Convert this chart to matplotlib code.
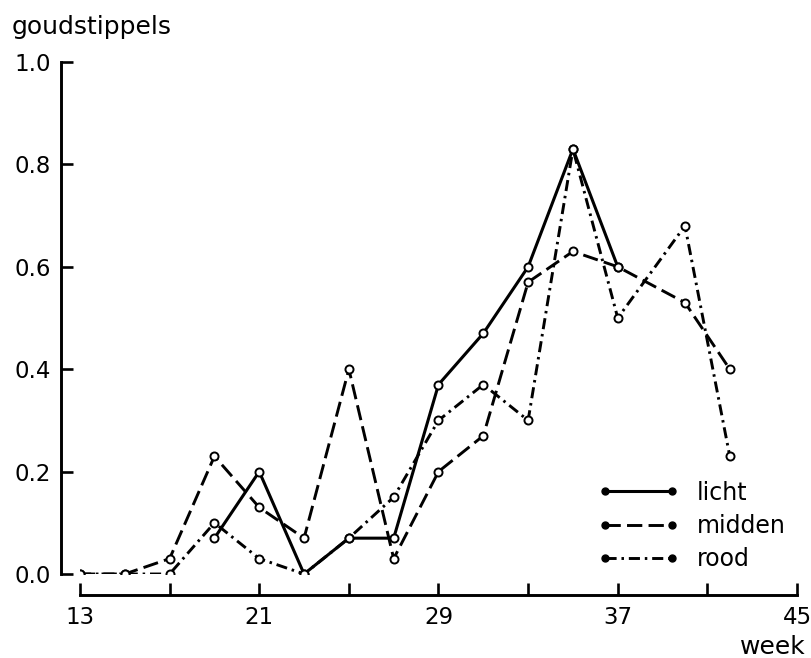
import numpy as np
import matplotlib
matplotlib.use("Agg")
import matplotlib.pyplot as plt
from matplotlib.lines import Line2D

# Gold-spot counts per week for three light treatments
weeks = [13, 15, 17, 19, 21, 23, 25, 27, 29, 31, 33, 35, 37, 40, 42]
licht = [np.nan, np.nan, np.nan, 0.07, 0.20, 0.00, 0.07, 0.07, 0.37, 0.47, 0.60, 0.83, 0.60, np.nan, np.nan]
midden = [0.00, 0.00, 0.03, 0.23, 0.13, 0.07, 0.40, 0.03, 0.20, 0.27, 0.57, 0.63, 0.60, 0.53, 0.40]
rood = [0.00, 0.00, 0.00, 0.10, 0.03, 0.00, 0.07, 0.15, 0.30, 0.37, 0.30, 0.83, 0.50, 0.68, 0.23]

series_names = ["licht", "midden", "rood"]
x_ticks = [13, 17, 21, 25, 29, 33, 37, 41, 45]
x_labels = ["13", "", "21", "", "29", "", "37", "", "45"]
y_ticks = [0.0, 0.2, 0.4, 0.6, 0.8, 1.0]
y_labels = ["0.0", "0.2", "0.4", "0.6", "0.8", "1.0"]

plt.rcParams["font.family"] = ["DejaVu Sans"]
plt.rcParams["lines.scale_dashes"] = False

W, H = 812, 658
fig = plt.figure(figsize=(W / 100, H / 100), dpi=100)
ax = fig.add_axes([80 / W, 1 - 574 / H, (797 - 80) / W, (574 - 62) / H])

styles = {
    "licht": dict(linestyle="-", linewidth=2.2),
    "midden": dict(linestyle=(0, (11, 4.5)), linewidth=2.1),
    "rood": dict(linestyle=(0, (8, 3.5, 1.8, 3.5)), linewidth=2.1),
}
data = {"licht": licht, "midden": midden, "rood": rood}

for name in series_names:
    ax.plot(weeks, data[name], color="black", marker="o", markersize=5.8,
            markerfacecolor="white", markeredgecolor="black",
            markeredgewidth=1.4, solid_joinstyle="miter", **styles[name])

ax.set_xlim(13, 45)
ax.set_ylim(0, 1.0)

for side in ("top", "right"):
    ax.spines[side].set_visible(False)
ax.spines["left"].set_position(("outward", 13.7))
ax.spines["bottom"].set_position(("outward", 15.1))
ax.spines["left"].set_bounds(0, 1.0)
ax.spines["bottom"].set_bounds(13, 45)
for side in ("left", "bottom"):
    ax.spines[side].set_linewidth(2.1)

ax.set_xticks(x_ticks)
ax.set_xticklabels(x_labels)
ax.set_yticks(y_ticks)
ax.set_yticklabels(y_labels)
ax.tick_params(axis="both", direction="in", length=8.5, width=1.9,
               labelsize=16.5, color="black")
ax.tick_params(axis="x", pad=8)
ax.tick_params(axis="y", pad=7)

fig.text(12 / W, 1 - 27 / H, "goudstippels", fontsize=18, ha="left", va="center")
fig.text(806 / W, 1 - 647 / H, "week", fontsize=18, ha="right", va="center")

handles = [
    Line2D([], [], color="black", marker="o", markersize=5, markerfacecolor="black",
           markeredgecolor="black", **styles[name])
    for name in series_names
]
ax.legend(handles, series_names, numpoints=2, frameon=False, fontsize=17,
          loc="center left", bbox_to_anchor=(598 / W, 1 - 526 / H),
          bbox_transform=fig.transFigure, borderpad=0, borderaxespad=0,
          handlelength=3.45, handletextpad=0.75, labelspacing=0.4)

fig.savefig("out.png", dpi=100)
